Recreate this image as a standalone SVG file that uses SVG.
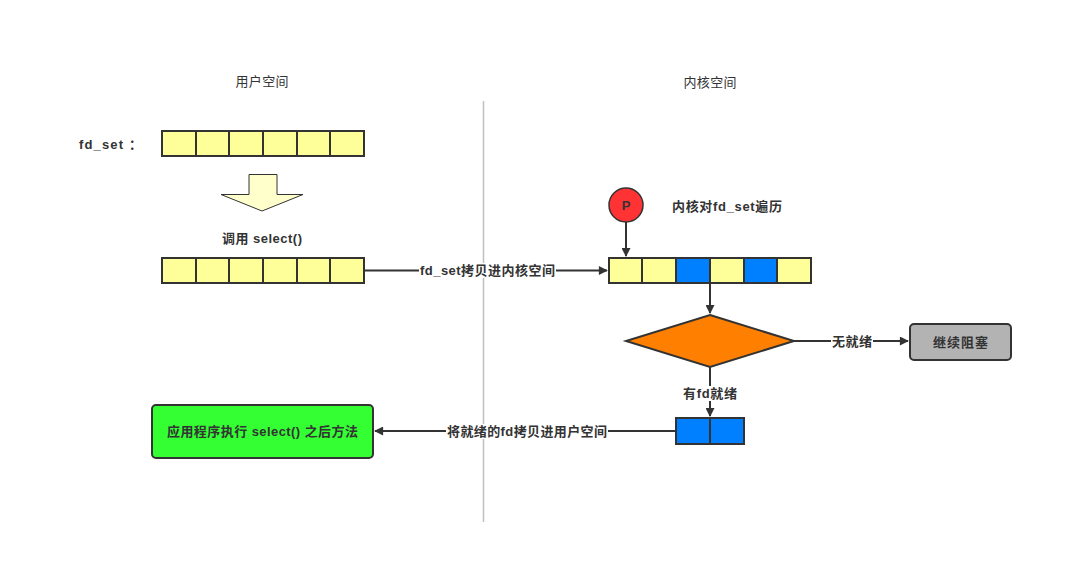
<svg xmlns="http://www.w3.org/2000/svg" width="1084" height="564" viewBox="0 0 1084 564">
<style>
text{font-family:"Liberation Sans","Noto Sans CJK SC",sans-serif;fill:#333;font-size:13px;text-anchor:middle;dominant-baseline:central;font-weight:bold}
.t{font-weight:normal}
.y{fill:#FFFF99;stroke:#333;stroke-width:2}
.u{fill:#0080FF;stroke:#333;stroke-width:2}
.ln{fill:none;stroke:#333;stroke-width:2}
.lbl{fill:#fff;stroke:none}
</style>
<defs>
<marker id="ah" viewBox="0 0 10 10" refX="9" refY="5" markerWidth="10" markerHeight="9" markerUnits="userSpaceOnUse" orient="auto"><path d="M0,0 L10,5 L0,10 z" fill="#333"/></marker>
</defs>
<rect width="1084" height="564" fill="#fff"/>
<line x1="483.5" y1="101" x2="483.5" y2="522" stroke="#C0C0C0" stroke-width="1.5"/>
<text x="262" y="81" class="t" textLength="53" lengthAdjust="spacing">用户空间</text>
<text x="710" y="82" class="t" textLength="53" lengthAdjust="spacing">内核空间</text>

<g id="fdset-label"><text x="110.5" y="144" font-size="14" textLength="63" lengthAdjust="spacing">fd_set ：</text></g>

<g id="user-array">
<rect class="y" x="162" y="131" width="34" height="25"/>
<rect class="y" x="196" y="131" width="33" height="25"/>
<rect class="y" x="229" y="131" width="34" height="25"/>
<rect class="y" x="263" y="131" width="34" height="25"/>
<rect class="y" x="297" y="131" width="33" height="25"/>
<rect class="y" x="330" y="131" width="34" height="25"/>
</g>

<g id="down-arrow"><path d="M249,174.5 L277,174.5 L277,194.5 L303,194.5 L262,211 L221,194.5 L249,194.5 Z" fill="#FFFFCC" stroke="#333" stroke-width="1"/></g>
<g id="call-label"><text x="262" y="238" textLength="80" lengthAdjust="spacing">调用 select()</text></g>

<g id="user-array2">
<rect class="y" x="162" y="258" width="34" height="25"/>
<rect class="y" x="196" y="258" width="33" height="25"/>
<rect class="y" x="229" y="258" width="34" height="25"/>
<rect class="y" x="263" y="258" width="34" height="25"/>
<rect class="y" x="297" y="258" width="33" height="25"/>
<rect class="y" x="330" y="258" width="34" height="25"/>
</g>

<g id="pointer">
<circle cx="626" cy="205" r="17" fill="#FF3333" stroke="#333" stroke-width="1.5"/>
<text x="626" y="205" font-size="9">P</text>
</g>
<g id="traverse-label"><text x="727" y="206" textLength="110" lengthAdjust="spacing">内核对fd_set遍历</text></g>

<g id="kernel-array">
<rect class="y" x="609" y="258" width="33" height="25"/>
<rect class="y" x="642" y="258" width="34" height="25"/>
<rect class="u" x="676" y="258" width="34" height="25"/>
<rect class="y" x="710" y="258" width="34" height="25"/>
<rect class="u" x="744" y="258" width="33" height="25"/>
<rect class="y" x="777" y="258" width="34" height="25"/>
</g>

<g id="decision"><path d="M710,315 L794,341 L710,367 L626,341 Z" fill="#FF8000" stroke="#333" stroke-width="2"/></g>

<g id="block"><rect x="910" y="324" width="101" height="36" rx="4" fill="#B3B3B3" stroke="#333" stroke-width="2"/><text x="960.5" y="342" textLength="55" lengthAdjust="spacing">继续阻塞</text></g>

<g id="ready-array">
<rect class="u" x="676" y="418" width="34" height="26"/>
<rect class="u" x="710" y="418" width="34" height="26"/>
</g>

<g id="app"><rect x="152" y="405" width="221" height="53" rx="4" fill="#33FF33" stroke="#333" stroke-width="2"/><text x="262.5" y="431.5" textLength="191" lengthAdjust="spacing">应用程序执行 select() 之后方法</text></g>

<g id="connectors">
<line class="ln" x1="364" y1="270.5" x2="607" y2="270.5" marker-end="url(#ah)"/>
<rect class="lbl" x="419" y="263" width="137" height="15"/>
<text x="487.5" y="270.5" textLength="135" lengthAdjust="spacing">fd_set拷贝进内核空间</text>
<line class="ln" x1="626" y1="222" x2="626" y2="256" marker-end="url(#ah)"/>
<line class="ln" x1="710" y1="283" x2="710" y2="313" marker-end="url(#ah)"/>
<line class="ln" x1="794" y1="341" x2="908" y2="341" marker-end="url(#ah)"/>
<rect class="lbl" x="831" y="334" width="42" height="15"/>
<text x="852" y="341.5" textLength="40" lengthAdjust="spacing">无就绪</text>
<line class="ln" x1="710" y1="367" x2="710" y2="416" marker-end="url(#ah)"/>
<rect class="lbl" x="682" y="386" width="56" height="15"/>
<text x="710" y="393" textLength="54" lengthAdjust="spacing">有fd就绪</text>
<line class="ln" x1="676" y1="431" x2="375" y2="431" marker-end="url(#ah)"/>
<rect class="lbl" x="446" y="424" width="162" height="15"/>
<text x="527" y="431.5" textLength="160" lengthAdjust="spacing">将就绪的fd拷贝进用户空间</text>
</g>
</svg>
